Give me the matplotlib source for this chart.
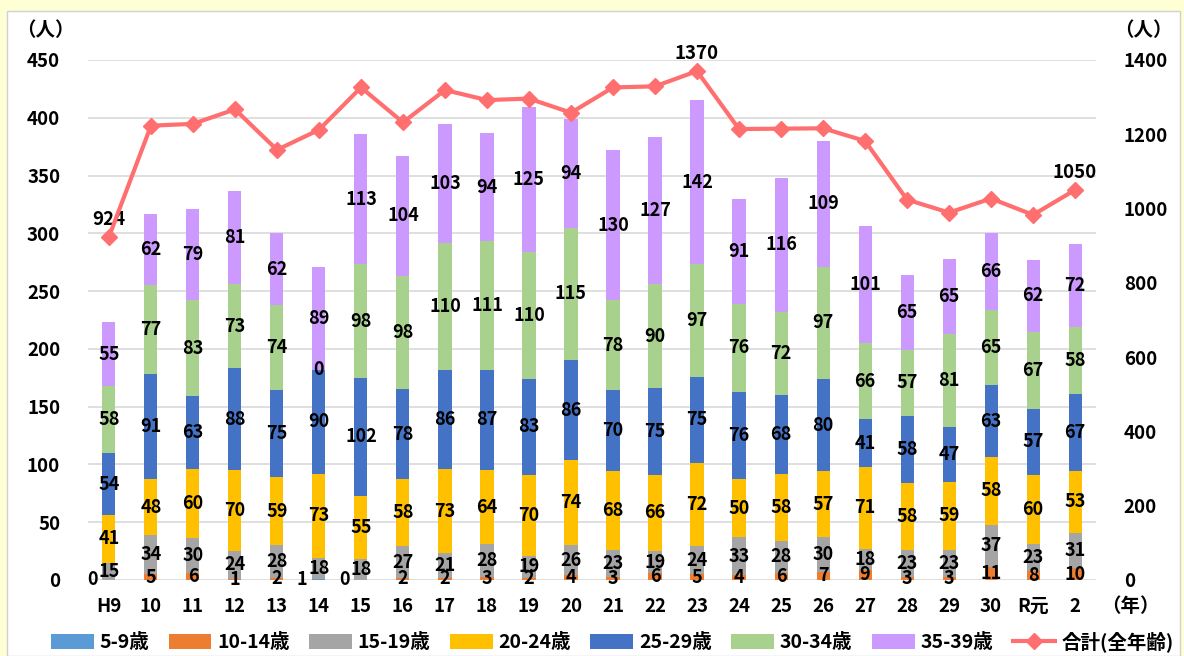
import numpy as np
import matplotlib
matplotlib.use('Agg')
import matplotlib.pyplot as plt
from matplotlib.patches import Rectangle

plt.rcParams['font.family'] = ['Noto Sans CJK JP', 'DejaVu Sans']
plt.rcParams['font.weight'] = 'bold'

years = ['H9', '10', '11', '12', '13', '14', '15', '16', '17', '18', '19', '20',
         '21', '22', '23', '24', '25', '26', '27', '28', '29', '30', 'R元', '2']

# None = no value shown for that year
age_5_9 = [0, None, None, None, None, 1, 0, None, None, None, None, None,
           None, None, None, None, None, None, None, None, None, None, None, None]
age_10_14 = [None, 5, 6, 1, 2, None, None, 2, 2, 3, 2, 4,
             3, 6, 5, 4, 6, 7, 9, 3, 3, 11, 8, 10]
age_15_19 = [15, 34, 30, 24, 28, 18, 18, 27, 21, 28, 19, 26,
             23, 19, 24, 33, 28, 30, 18, 23, 23, 37, 23, 31]
age_20_24 = [41, 48, 60, 70, 59, 73, 55, 58, 73, 64, 70, 74,
             68, 66, 72, 50, 58, 57, 71, 58, 59, 58, 60, 53]
age_25_29 = [54, 91, 63, 88, 75, 90, 102, 78, 86, 87, 83, 86,
             70, 75, 75, 76, 68, 80, 41, 58, 47, 63, 57, 67]
age_30_34 = [58, 77, 83, 73, 74, 0, 98, 98, 110, 111, 110, 115,
             78, 90, 97, 76, 72, 97, 66, 57, 81, 65, 67, 58]
age_35_39 = [55, 62, 79, 81, 62, 89, 113, 104, 103, 94, 125, 94,
             130, 127, 142, 91, 116, 109, 101, 65, 65, 66, 62, 72]
total = [924, 1223, 1228, 1267, 1158, 1212, 1326, 1232, 1319, 1292, 1296, 1258,
         1326, 1329, 1370, 1214, 1215, 1216, 1182, 1024, 989, 1027, 983, 1050]
total_labels = {0: 924, 14: 1370, 23: 1050}

series = [
    ('10-14歳', age_10_14, '#ED7D31'),
    ('15-19歳', age_15_19, '#A5A5A5'),
    ('20-24歳', age_20_24, '#FFC000'),
    ('25-29歳', age_25_29, '#4472C4'),
    ('30-34歳', age_30_34, '#A9D18E'),
    ('35-39歳', age_35_39, '#CC99FF'),
]

fig = plt.figure(figsize=(11.84, 6.56), dpi=100, facecolor='#FFFFD6')
fig.patches.append(Rectangle((7 / 1184, 0), 1 - 11 / 1184, 1 - 11 / 656,
                             transform=fig.transFigure, facecolor='white',
                             edgecolor='#D0D0D0', linewidth=1, zorder=-10))

ax = fig.add_axes([0.0743, 0.1159, 0.8514, 0.7927])
ax.set_facecolor('none')
x = np.arange(len(years))
w = 0.31

# 5-9 (values sit at zero)
v59 = np.array([v if v is not None else 0 for v in age_5_9], dtype=float)
ax.bar(x, v59, w, color='#5B9BD5', label='5-9歳', zorder=2)
for i, v in enumerate(age_5_9):
    if v is not None:
        ax.text(i - 0.4, 0, str(v), ha='center', va='center', fontsize=13, fontweight='bold')

bottom = v59.copy()
for name, vals, col in series:
    arr = np.array([v if v is not None else 0 for v in vals], dtype=float)
    ax.bar(x, arr, w, bottom=bottom, color=col, label=name, zorder=2)
    for i, v in enumerate(vals):
        if v is not None:
            ax.text(i, bottom[i] + v / 2, str(v), ha='center', va='center',
                    fontsize=13, fontweight='bold', zorder=5)
    bottom += arr

ax.set_ylim(0, 450)
ax.set_yticks(np.arange(0, 451, 50))
ax.set_xlim(-0.5, 23.5)
ax.set_xticks(x)
ax.set_xticklabels(years)
ax.grid(axis='y', color='#D9D9D9', linewidth=1.2, zorder=0)
ax.set_axisbelow(True)
for s in ax.spines.values():
    s.set_visible(False)
ax.tick_params(axis='y', length=0, pad=20, labelsize=13.5)
ax.tick_params(axis='x', length=0, pad=12, labelsize=13.5)

ax2 = ax.twinx()
ax2.plot(x, total, color='#FF6F6F', linewidth=3, marker='D', markersize=8,
         label='合計(全年齢)', zorder=6)
for i, v in total_labels.items():
    ax2.text(i, total[i] + 22, str(v), ha='center', va='bottom', fontsize=13.5, fontweight='bold')
ax2.set_ylim(0, 1400)
ax2.set_yticks(np.arange(0, 1401, 200))
for s in ax2.spines.values():
    s.set_visible(False)
ax2.tick_params(axis='y', length=0, pad=20, labelsize=13.5)

fig.text(0.038, 0.953, '（人）', ha='center', va='center', fontsize=14, fontweight='bold')
fig.text(0.966, 0.953, '（人）', ha='center', va='center', fontsize=14, fontweight='bold')
fig.text(0.955, 0.075, '（年）', ha='center', va='center', fontsize=14, fontweight='bold')

h1, l1 = ax.get_legend_handles_labels()
h2, l2 = ax2.get_legend_handles_labels()
fig.legend(h1 + h2, l1 + l2, loc='center', bbox_to_anchor=(0.517, 0.022), ncol=8,
           frameon=False, fontsize=14, handlelength=2.2, handleheight=0.8,
           handletextpad=0.3, columnspacing=1.0, borderaxespad=0)

fig.savefig('out.png', dpi=100, facecolor=fig.get_facecolor())
